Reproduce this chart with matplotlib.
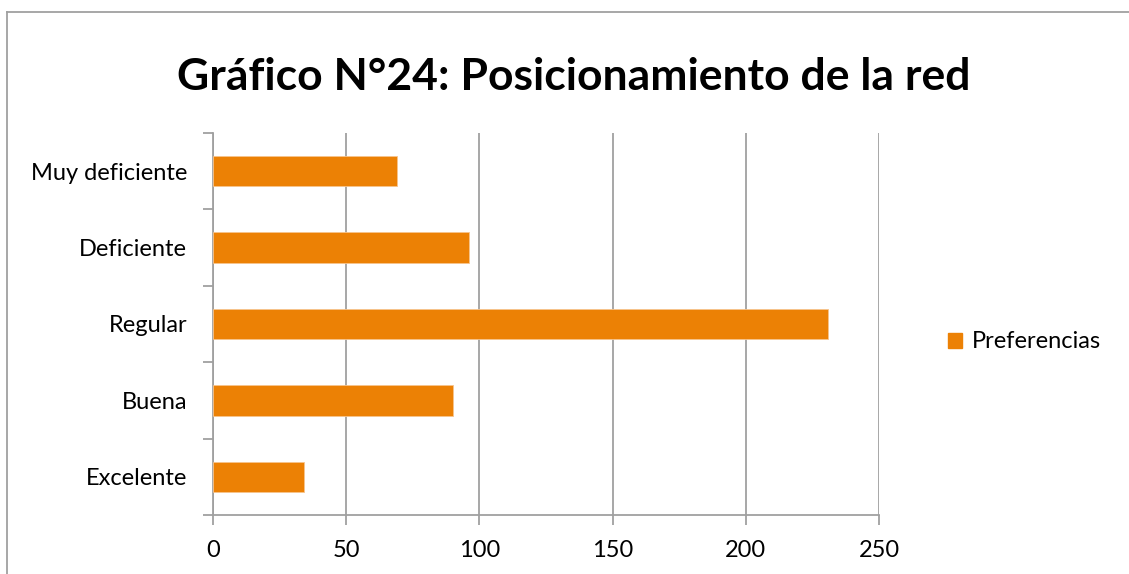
import matplotlib
matplotlib.use("Agg")
import matplotlib.pyplot as plt
from matplotlib.lines import Line2D

categories = ["Excelente", "Buena", "Regular", "Deficiente", "Muy deficiente"]
values = [34, 90, 231, 96, 69]
series_name = "Preferencias"
title = "Gráfico N°24: Posicionamiento de la red"
xticks = [0, 50, 100, 150, 200, 250]

W, H = 1129, 574
fig = plt.figure(figsize=(W / 100, H / 100), dpi=100)
fig.patch.set_facecolor("white")

font = "Lato"
orange = "#EC8105"
grey = "#A0A0A0"
fs = 17

# outer frame (left and top only visible)
fig.add_artist(Line2D([6.5 / W, 6.5 / W], [0, 1 - 12 / H], transform=fig.transFigure, color=grey, lw=1.3))
fig.add_artist(Line2D([6.5 / W, 1], [1 - 12 / H, 1 - 12 / H], transform=fig.transFigure, color=grey, lw=1.3))

left, right, top, bottom = 213, 879, 133, 515
ax = fig.add_axes([left / W, 1 - bottom / H, (right - left) / W, (bottom - top) / H])

y = list(range(len(categories)))
ax.barh(y, values, height=0.4, color=orange, edgecolor="#F7C48E", linewidth=0.6, zorder=3)

ax.set_xlim(0, 250)
ax.set_ylim(-0.5, len(categories) - 0.5)
ax.set_xticks(xticks)
ax.set_xticklabels([str(t) for t in xticks], fontfamily=font, fontsize=fs)
ax.set_yticks(y)
ax.set_yticklabels(categories, fontfamily=font, fontsize=fs)
ax.tick_params(axis="y", which="major", length=0, pad=18.7)
ax.set_yticks([i - 0.5 for i in range(len(categories) + 1)], minor=True)
ax.tick_params(axis="y", which="minor", length=7, color=grey, width=1.3)
ax.tick_params(axis="x", which="major", length=7, color=grey, width=1.3, pad=11)

ax.grid(axis="x", color=grey, lw=1.3, zorder=0)
for s in ["top", "right"]:
    ax.spines[s].set_visible(False)
for s in ["left", "bottom"]:
    ax.spines[s].set_color(grey)
    ax.spines[s].set_linewidth(1.3)

fig.text(574 / W, 1 - 77 / H, title, ha="center", va="center", fontfamily=font,
         fontweight="bold", fontsize=32)

handle = plt.Rectangle((0, 0), 1, 1, color=orange)
fig.legend([handle], [series_name], loc="center left", bbox_to_anchor=(948 / W, 1 - 342 / H),
           frameon=False, prop={"family": font, "size": fs}, handlelength=0.6, handleheight=0.6,
           handletextpad=0.4, borderaxespad=0, borderpad=0)

fig.savefig("out.png", dpi=100, facecolor="white")
